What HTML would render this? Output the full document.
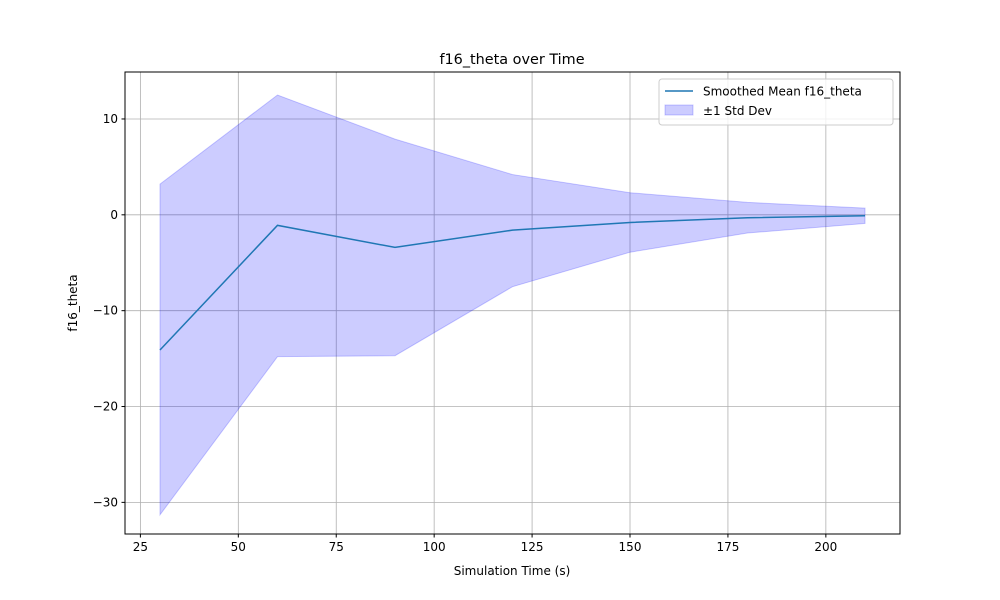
<!DOCTYPE html>
<html><head><meta charset="utf-8"><style>
body{margin:0;background:#fff;}
svg{display:block;font-family:"DejaVu Sans","Liberation Sans",sans-serif;}
</style></head><body>
<svg id="chart" width="1000" height="600">
<rect width="1000" height="600" fill="#fff"/>
<g id="grid"></g>
<g id="marks"></g>
<rect x="125" y="72" width="775" height="462" fill="none" stroke="#000" stroke-width="1"/>
<g id="ticks" font-size="12"></g>
<text x="512" y="64" text-anchor="middle" font-size="14.4">f16_theta over Time</text>
<text x="512" y="575" text-anchor="middle" font-size="12">Simulation Time (s)</text>
<text transform="translate(77,303) rotate(-90)" text-anchor="middle" font-size="12">f16_theta</text>
<g>
<rect x="659" y="79" width="234" height="46" rx="3" fill="#fff" fill-opacity="0.8" stroke="#ccc"/>
<line x1="665" y1="91" x2="693" y2="91" stroke="#1f77b4" stroke-width="1.5"/>
<text x="703" y="95.5" font-size="12">Smoothed Mean f16_theta</text>
<rect x="665" y="105" width="28" height="10" fill="#0000ff" fill-opacity="0.2" stroke="#0000ff" stroke-opacity="0.2"/>
<text x="703" y="115" font-size="12">±1 Std Dev</text>
</g>
</svg>
<script>
const times=[30,60,90,120,150,180,210];
const meanVals=[-14.1,-1.1,-3.4,-1.6,-0.8,-0.3,-0.1];
const upperVals=[3.2,12.5,7.9,4.2,2.3,1.3,0.7];
const lowerVals=[-31.3,-14.8,-14.7,-7.5,-3.9,-1.9,-0.9];
const xTicks=[25,50,75,100,125,150,175,200];
const yTicks=[-30,-20,-10,0,10];
const X0=125,X1=900,Y0=72,Y1=534;
const xmin=21.07,xmax=218.93,ymin=-33.3,ymax=14.9;
function xs(v){return X0+(v-xmin)/(xmax-xmin)*(X1-X0);}
function ys(v){return Y1-(v-ymin)/(ymax-ymin)*(Y1-Y0);}
const NS="http://www.w3.org/2000/svg";
function mk(t,a,p){const e=document.createElementNS(NS,t);for(const k in a)e.setAttribute(k,a[k]);p.appendChild(e);return e;}
const grid=document.getElementById('grid'),marks=document.getElementById('marks'),ticks=document.getElementById('ticks');
xTicks.forEach(v=>{const x=xs(v);
const g=mk('line',{x1:x,x2:x,y1:Y0,y2:Y1,stroke:'#b0b0b0','stroke-width':0.8},grid);


const t=mk('line',{x1:x,x2:x,y1:Y1,y2:Y1+3.5,stroke:'#000'},ticks);


const l=mk('text',{x:x,y:Y1+17,'text-anchor':'middle'},ticks);l.textContent=v;

});
yTicks.forEach(v=>{const y=ys(v);
const g=mk('line',{x1:X0,x2:X1,y1:y,y2:y,stroke:'#b0b0b0','stroke-width':0.8},grid);


const t=mk('line',{x1:X0-3.5,x2:X0,y1:y,y2:y,stroke:'#000'},ticks);


const l=mk('text',{x:X0-7,y:y+4,'text-anchor':'end'},ticks);l.textContent=v<0?'\u2212'+(-v):v;

});
let pts=times.map((t,i)=>xs(t)+','+ys(upperVals[i]));
for(let i=times.length-1;i>=0;i--)pts.push(xs(times[i])+','+ys(lowerVals[i]));
const band=mk('polygon',{points:pts.join(' '),fill:'#0000ff','fill-opacity':0.2,stroke:'#0000ff','stroke-opacity':0.2},marks);


const line=mk('polyline',{points:times.map((t,i)=>xs(t)+','+ys(meanVals[i])).join(' '),fill:'none',stroke:'#1f77b4','stroke-width':1.5},marks);


</script>
</body></html>
